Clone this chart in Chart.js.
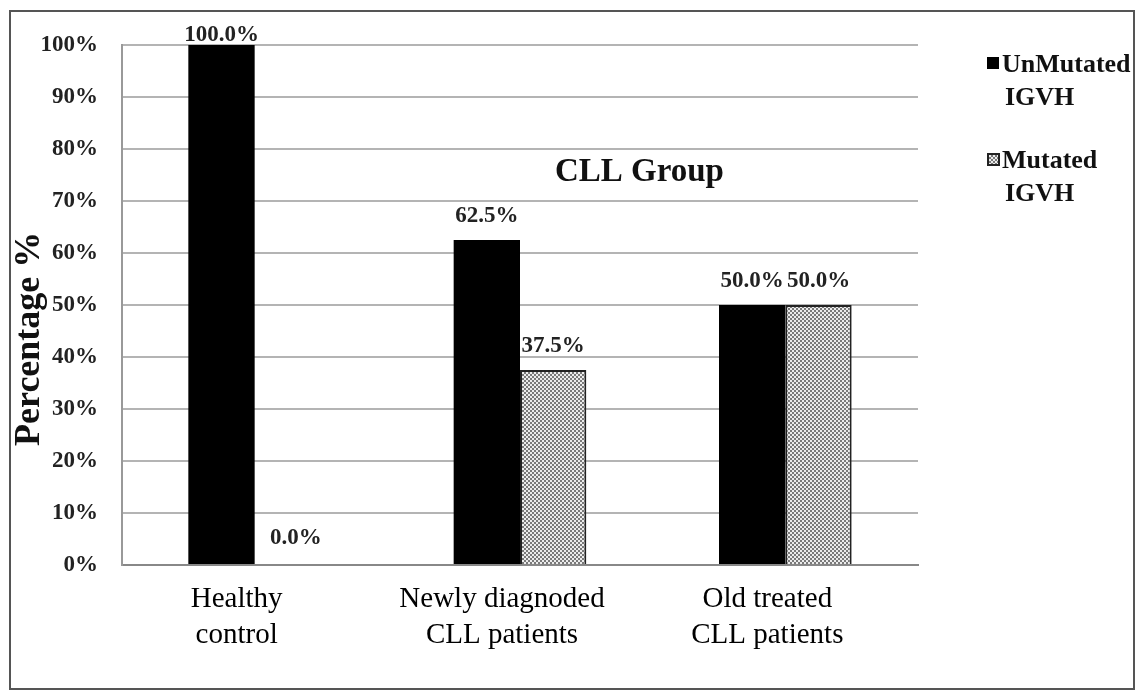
<!DOCTYPE html>
<html>
<head>
<meta charset="utf-8">
<script src="https://cdn.jsdelivr.net/npm/chart.js@4/dist/chart.umd.min.js"></script>
<style>
  body { margin: 0; background: #fff; }
  #wrap { position: relative; width: 1137px; height: 690px; overflow: hidden; }
  #frame { position: absolute; left: 9px; top: 10px; width: 1122px; height: 676px; border: 2px solid #555; }
  .leg { position: absolute; font: bold 26px "Liberation Serif", serif; color: #111; line-height: 33px; white-space: nowrap; }
  .sw { position: absolute; width: 12px; height: 12px; }
</style>
</head>
<body>
<div id="wrap">
  <div id="frame"></div>
  <canvas id="grafico" width="1137" height="690" style="position:absolute;left:0;top:0"></canvas>
  <div class="sw" style="left:987px;top:57px;background:#000"></div>
  <div class="leg" style="left:1002px;top:47px">UnMutated</div>
  <div class="leg" style="left:1005px;top:80px">IGVH</div>
  <div class="sw" id="sw2" style="left:987px;top:153px;border:2px solid #222;width:9px;height:9px"></div>
  <div class="leg" style="left:1002px;top:143px">Mutated</div>
  <div class="leg" style="left:1005px;top:176px">IGVH</div>
</div>
<script>
// datos
const categorias = [["Healthy", "control"], ["Newly diagnoded", "CLL patients"], ["Old treated", "CLL patients"]];
const unmutated = [100.0, 62.5, 50.0];
const mutated = [0.0, 37.5, 50.0];
const etiquetasY = [0, 10, 20, 30, 40, 50, 60, 70, 80, 90, 100];

// patron punteado para "Mutated"
function crearPatron() {
  const c = document.createElement("canvas");
  c.width = 4; c.height = 4;
  const g = c.getContext("2d");
  g.fillStyle = "#ececec";
  g.fillRect(0, 0, 4, 4);
  g.fillStyle = "#7a7a7a";
  g.fillRect(0, 0, 2, 2);
  g.fillRect(2, 2, 2, 2);
  return g.createPattern(c, "repeat");
}
const patron = crearPatron();
document.getElementById("sw2").style.background = "repeating-conic-gradient(#7a7a7a 0 25%, #ececec 0 50%) 0 0 / 4px 4px";

const fuente = "'Liberation Serif', 'Times New Roman', serif";

// etiquetas de valores sobre las barras
const etiquetasValores = {
  id: "etiquetasValores",
  afterDatasetsDraw(chart) {
    const ctx = chart.ctx;
    ctx.save();
    ctx.font = "bold 23px " + fuente;
    ctx.fillStyle = "#222";
    ctx.textAlign = "center";
    ctx.textBaseline = "middle";
    chart.data.datasets.forEach((ds, i) => {
      chart.getDatasetMeta(i).data.forEach((el, j) => {
        let y = el.y - 24;
        if (ds.data[j] === 0) y = el.y - 27;
        y = Math.max(y, chart.chartArea.top - 10);
        ctx.fillText(ds.data[j].toFixed(1) + "%", el.x + (ds.data[j] === 0 ? 8 : 0), y);
      });
    });
    ctx.restore();
  }
};

// textos: "CLL Group" y titulo del eje Y
const textos = {
  id: "textos",
  afterDraw(chart) {
    const ctx = chart.ctx;
    const { x, y } = chart.scales;
    ctx.save();
    ctx.fillStyle = "#111";
    ctx.textAlign = "center";
    ctx.textBaseline = "middle";
    ctx.font = "bold 33px " + fuente;
    ctx.fillText("CLL Group", x.getPixelForValue(1.45), y.getPixelForValue(75.5));
    ctx.translate(30, y.getPixelForValue(43.5));
    ctx.rotate(-Math.PI / 2);
    ctx.font = "bold 36px " + fuente;
    ctx.fillText("Percentage %", 0, 0);
    ctx.restore();
  }
};

new Chart(document.getElementById("grafico"), {
  type: "bar",
  data: {
    labels: categorias,
    datasets: [{
      label: "UnMutated IGVH",
      data: unmutated,
      backgroundColor: "#000",
      borderWidth: 0
    }, {
      label: "Mutated IGVH",
      data: mutated,
      backgroundColor: patron,
      borderColor: "#222",
      borderWidth: 2
    }]
  },
  options: {
    responsive: false,
    animation: false,
    devicePixelRatio: 1,
    layout: { padding: { top: 45, right: 219, bottom: 15, left: 10 } },
    plugins: {
      legend: { display: false },
      tooltip: { enabled: false }
    },
    datasets: { bar: { categoryPercentage: 0.5, barPercentage: 1.0 } },
    scales: {
      x: {
        grid: { display: false, drawTicks: false },
        border: { color: "#888", width: 2 },
        afterFit: (s) => { s.height = 110; },
        ticks: {
          color: "#000",
          padding: 16,
          labelOffset: -18,
          maxRotation: 0,
          font: { family: fuente, size: 29, lineHeight: 1.25 }
        }
      },
      y: {
        min: 0,
        max: 100,
        afterFit: (s) => { s.width = 112; },
        afterBuildTicks: (s) => { s.ticks = etiquetasY.map(v => ({ value: v })); },
        grid: { color: "#b4b4b4", lineWidth: 2, drawTicks: false },
        border: { color: "#999", width: 2 },
        ticks: {
          color: "#222",
          padding: 24,
          font: { family: fuente, size: 23, weight: "bold" },
          callback: (v) => v + "%"
        }
      }
    }
  },
  plugins: [etiquetasValores, textos]
});
</script>
</body>
</html>
